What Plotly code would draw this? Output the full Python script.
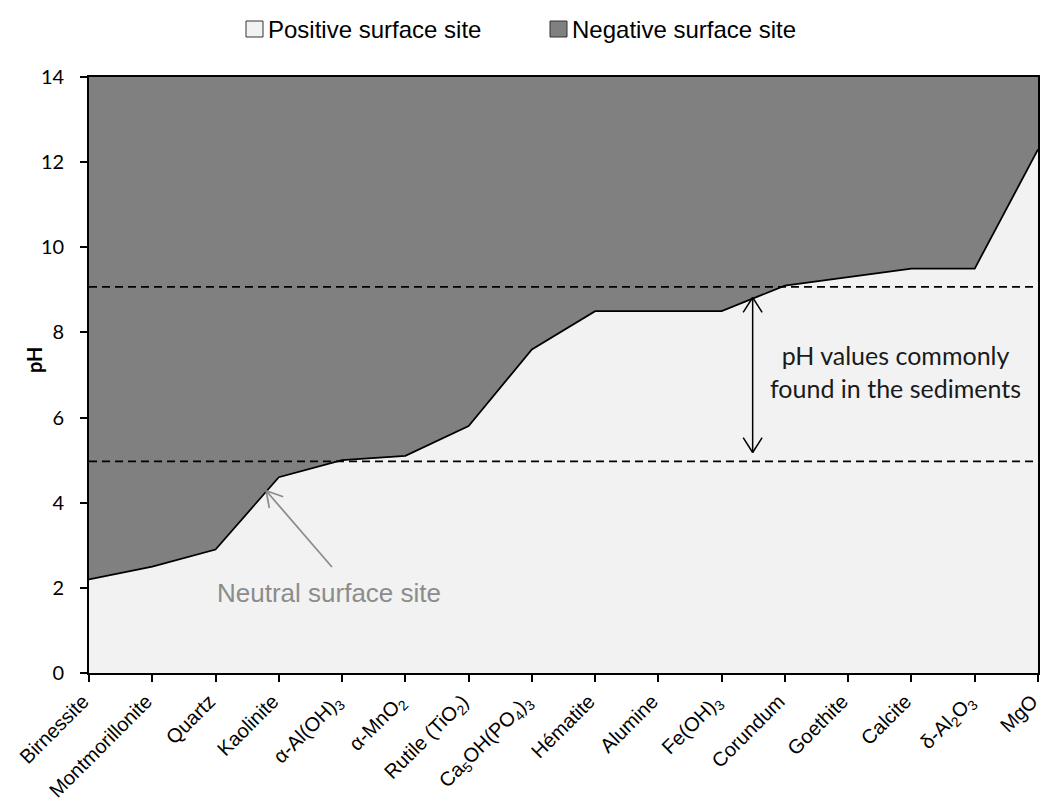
import plotly.graph_objects as go

minerals = ["Birnessite", "Montmorillonite", "Quartz", "Kaolinite",
            "α-Al(OH)<sub>3</sub>", "α-MnO<sub>2</sub>", "Rutile (TiO<sub>2</sub>)",
            "Ca<sub>5</sub>OH(PO<sub>4</sub>)<sub>3</sub>", "Hématite", "Alumine",
            "Fe(OH)<sub>3</sub>", "Corundum", "Goethite", "Calcite",
            "δ-Al<sub>2</sub>O<sub>3</sub>", "MgO"]
pzc = [2.2, 2.5, 2.9, 4.6, 5.0, 5.1, 5.8, 7.6, 8.5, 8.5, 8.5, 9.1, 9.3, 9.5, 9.5, 12.3]
ph_max = [14] * len(minerals)
sediment_low = 4.97
sediment_high = 9.07
y_ticks = [0, 2, 4, 6, 8, 10, 12, 14]
legend_names = ["Positive surface site", "Negative surface site"]
legend_colors = ["#f2f2f2", "#808080"]

W, H = 1041, 803
ML, MR, MT, MB = 89, 3, 77, 130
PW, PH = W - ML - MR, H - MT - MB


def px_x(px):
    return (px - ML) / PW


def px_y(py):
    return (H - MB - py) / PH


idx = list(range(len(minerals)))

fig = go.Figure()
fig.add_trace(go.Scatter(x=idx, y=ph_max, mode="lines", line=dict(width=0, color="#808080"),
                         fill="tozeroy", fillcolor="#808080", showlegend=False, hoverinfo="skip"))
fig.add_trace(go.Scatter(x=idx, y=pzc, mode="lines", line=dict(width=1.75, color="black"),
                         fill="tozeroy", fillcolor="#f2f2f2", showlegend=False))

for yv in [sediment_high, sediment_low]:
    fig.add_shape(type="line", xref="x", yref="y", x0=0, x1=15, y0=yv, y1=yv,
                  line=dict(color="black", width=1.75, dash="8px,5px"))

# Double-headed arrow
fig.add_shape(type="line", xref="x", yref="y", x0=10.49, y0=8.82, x1=10.49, y1=5.18,
              line=dict(color="black", width=1.5))
for (yt, yb) in [(8.82, 8.47), (5.18, 5.53)]:
    for dx in (-0.15, 0.15):
        fig.add_shape(type="line", xref="x", yref="y", x0=10.49, y0=yt, x1=10.49 + dx, y1=yb,
                      line=dict(color="black", width=1.5))

fig.add_annotation(x=12.74, y=7.08, xref="x", yref="y", showarrow=False,
                   text="pH values commonly<br>found in the sediments",
                   font=dict(family="Lato, sans-serif", size=25, color="#1a1a1a"),
                   align="center")

# Neutral surface site arrow
gray = "#8c8c8c"
fig.add_shape(type="line", xref="x", yref="y", x0=3.84, y0=2.49, x1=2.80, y1=4.28,
              line=dict(color=gray, width=1.75))
fig.add_shape(type="line", xref="x", yref="y", x0=2.80, y0=4.28, x1=3.07, y1=4.14,
              line=dict(color=gray, width=1.75))
fig.add_shape(type="line", xref="x", yref="y", x0=2.80, y0=4.28, x1=2.85, y1=3.88,
              line=dict(color=gray, width=1.75))
fig.add_annotation(x=3.8, y=1.88, xref="x", yref="y", showarrow=False,
                   text="Neutral surface site",
                   font=dict(family="Liberation Sans, Arial, sans-serif", size=26, color=gray))

# Legend (drawn at the top)
legend_boxes = [(246, 263), (550, 567)]
for name, col, (bx0, bx1) in zip(legend_names, legend_colors, legend_boxes):
    fig.add_shape(type="rect", xref="paper", yref="paper",
                  x0=px_x(bx0), x1=px_x(bx1), y0=px_y(37), y1=px_y(21),
                  fillcolor=col, line=dict(color="#333333", width=1))
    fig.add_annotation(x=px_x(bx1 + 3), y=px_y(29.5), xref="paper", yref="paper",
                       xanchor="left", yanchor="middle", showarrow=False, text=name,
                       font=dict(family="Liberation Sans, Arial, sans-serif", size=24, color="black"))

# Y-axis title
fig.add_annotation(x=px_x(34), y=px_y(360), xref="paper", yref="paper", showarrow=False,
                   xanchor="center", yanchor="middle",
                   text="<b>pH</b>", textangle=-90,
                   font=dict(family="Lato, sans-serif", size=20, color="black"))

fig.update_layout(
    width=W, height=H,
    margin=dict(l=ML, r=MR, t=MT, b=MB, autoexpand=False),
    paper_bgcolor="white", plot_bgcolor="white",
    showlegend=False,
)
fig.update_xaxes(range=[-0.0001, 15.0001], tickmode="array", tickvals=idx, ticktext=minerals,
                 tickangle=-45, ticks="outside", ticklen=7, tickwidth=1.5, tickcolor="black",
                 showline=True, linecolor="black", linewidth=1.75, mirror=True,
                 showgrid=False, zeroline=False, automargin=False,
                 ticklabeloverflow="allow", ticklabelshift=-6,
                 tickfont=dict(family="Liberation Sans, Arial, sans-serif", size=20, color="black"))
fig.update_yaxes(range=[0, 14], tickvals=y_ticks, ticks="outside", ticklen=7, tickwidth=1.5,
                 tickcolor="black", showline=True, linecolor="black", linewidth=1.75, mirror=True,
                 showgrid=False, zeroline=False, automargin=False, ticklabelstandoff=12,
                 tickfont=dict(family="Lato, sans-serif", size=20, color="black"))

fig.write_html("out.html", config={"displayModeBar": False},
               post_script="document.body.style.margin='0';document.body.style.overflow='hidden';")
